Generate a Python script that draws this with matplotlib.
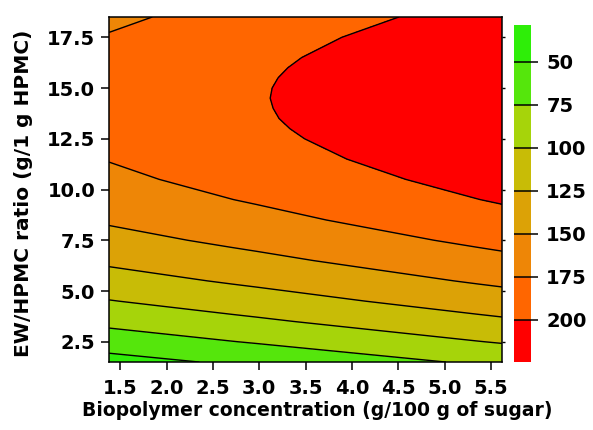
import numpy as np
import matplotlib
matplotlib.use('Agg')
import matplotlib.pyplot as plt
from matplotlib.colors import ListedColormap, BoundaryNorm

plt.rcParams['font.family'] = 'DejaVu Sans'
plt.rcParams['font.weight'] = 'bold'

# biopolymer concentration (g/100 g of sugar)
conc = [1.38, 1.645, 1.91, 2.175, 2.44, 2.705, 2.97, 3.235, 3.50,
        3.765, 4.03, 4.295, 4.56, 4.825, 5.09, 5.355, 5.62]
# EW/HPMC ratio (g/1 g HPMC)
ratio = [1.5, 2.5, 3.5, 4.5, 5.5, 6.5, 7.5, 8.5, 9.5, 10.5, 11.5, 12.5,
         13.0, 13.5, 14.0, 14.5, 15.0, 15.5, 16.0, 16.5, 17.5, 18.5]
# response, one row per ratio value
resp = [
    [40.8, 43.3, 45.8, 48.3, 50.8, 53.3, 55.7, 58.2, 60.7, 63.2, 65.7, 68.2, 70.7, 73.2, 75.7, 78.2, 80.6],
    [61.9, 64.4, 66.9, 69.4, 71.9, 74.4, 76.8, 79.3, 81.8, 84.3, 86.8, 89.3, 91.8, 94.3, 96.8, 99.3, 101.7],
    [81.3, 83.8, 86.3, 88.8, 91.3, 93.8, 96.2, 98.7, 101.2, 103.7, 106.2, 108.7, 111.2, 113.7, 116.2, 118.7, 121.1],
    [99.0, 101.5, 104.0, 106.5, 109.0, 111.5, 113.9, 116.4, 118.9, 121.4, 123.9, 126.4, 128.9, 131.4, 133.9, 136.4, 138.8],
    [115.0, 117.5, 120.0, 122.5, 125.0, 127.5, 129.9, 132.4, 134.9, 137.4, 139.9, 142.4, 144.9, 147.4, 149.9, 152.4, 154.8],
    [129.3, 131.8, 134.3, 136.8, 139.3, 141.8, 144.2, 146.7, 149.2, 151.7, 154.2, 156.7, 159.2, 161.7, 164.2, 166.7, 169.1],
    [142.0, 144.5, 147.0, 149.5, 152.0, 154.5, 156.9, 159.4, 161.9, 164.4, 166.9, 169.4, 171.9, 174.4, 176.9, 179.4, 181.8],
    [153.0, 155.5, 158.0, 160.5, 163.0, 165.5, 167.9, 170.4, 172.9, 175.4, 177.9, 180.4, 182.9, 185.4, 187.9, 190.4, 192.8],
    [162.3, 164.8, 167.3, 169.8, 172.3, 174.8, 177.2, 179.7, 182.2, 184.7, 187.2, 189.7, 192.2, 194.7, 197.2, 199.7, 202.1],
    [169.9, 172.4, 174.9, 177.4, 179.9, 182.4, 184.8, 187.3, 189.8, 192.3, 194.8, 197.3, 199.8, 202.3, 204.8, 207.3, 209.7],
    [175.9, 178.4, 180.9, 183.4, 185.9, 188.4, 190.8, 193.3, 195.8, 198.3, 200.8, 203.3, 205.8, 208.3, 210.8, 213.3, 215.7],
    [180.2, 182.7, 185.2, 187.7, 190.2, 192.7, 195.1, 197.6, 200.1, 202.6, 205.1, 207.6, 210.1, 212.6, 215.1, 217.6, 220.0],
    [181.7, 184.2, 186.7, 189.2, 191.7, 194.2, 196.6, 199.1, 201.6, 204.1, 206.6, 209.1, 211.6, 214.1, 216.6, 219.1, 221.5],
    [182.8, 185.3, 187.8, 190.3, 192.8, 195.3, 197.7, 200.2, 202.7, 205.2, 207.7, 210.2, 212.7, 215.2, 217.7, 220.2, 222.6],
    [183.4, 185.9, 188.4, 190.9, 193.4, 195.9, 198.3, 200.8, 203.3, 205.8, 208.3, 210.8, 213.3, 215.8, 218.3, 220.8, 223.2],
    [183.7, 186.2, 188.7, 191.2, 193.7, 196.2, 198.6, 201.1, 203.6, 206.1, 208.6, 211.1, 213.6, 216.1, 218.6, 221.1, 223.5],
    [183.5, 186.0, 188.5, 191.0, 193.5, 196.0, 198.4, 200.9, 203.4, 205.9, 208.4, 210.9, 213.4, 215.9, 218.4, 220.9, 223.3],
    [182.9, 185.4, 187.9, 190.4, 192.9, 195.4, 197.8, 200.3, 202.8, 205.3, 207.8, 210.3, 212.8, 215.3, 217.8, 220.3, 222.7],
    [181.9, 184.4, 186.9, 189.4, 191.9, 194.4, 196.8, 199.3, 201.8, 204.3, 206.8, 209.3, 211.8, 214.3, 216.8, 219.3, 221.7],
    [180.5, 183.0, 185.5, 188.0, 190.5, 193.0, 195.4, 197.9, 200.4, 202.9, 205.4, 207.9, 210.4, 212.9, 215.4, 217.9, 220.3],
    [176.4, 178.9, 181.4, 183.9, 186.4, 188.9, 191.3, 193.8, 196.3, 198.8, 201.3, 203.8, 206.3, 208.8, 211.3, 213.8, 216.2],
    [170.6, 173.1, 175.6, 178.1, 180.6, 183.1, 185.5, 188.0, 190.5, 193.0, 195.5, 198.0, 200.5, 203.0, 205.5, 208.0, 210.4],
]
lines = [50, 75, 100, 125, 150, 175, 200]
band_colors = ['#2EEE08', '#55E60C', '#A6D40A', '#C8BC06', '#DCA206',
               '#EE8606', '#FF6600', '#FF0000']
x_ticks = [1.5, 2.0, 2.5, 3.0, 3.5, 4.0, 4.5, 5.0, 5.5]
y_ticks = [2.5, 5.0, 7.5, 10.0, 12.5, 15.0, 17.5]

Z = np.array(resp)
levels = [Z.min()] + lines + [Z.max()]
cmap = ListedColormap(band_colors)
norm = BoundaryNorm(levels, cmap.N)

fig = plt.figure(figsize=(5.93, 4.30), dpi=100)
ax = fig.add_axes([0.184, 0.158, 0.6625, 0.8025])
cax = fig.add_axes([0.8668, 0.158, 0.0287, 0.785])

cf = ax.contourf(conc, ratio, Z, levels=levels, cmap=cmap, norm=norm)
ax.contour(conc, ratio, Z, levels=lines, colors='black', linewidths=1.0)

ax.set_xlim(conc[0], conc[-1])
ax.set_ylim(1.5, 18.5)
ax.set_xticks(x_ticks)
ax.set_xticklabels([f'{v:.1f}' for v in x_ticks])
ax.set_yticks(y_ticks)
ax.set_yticklabels([f'{v:.1f}' for v in y_ticks])
ax.tick_params(axis='both', direction='out', length=6, width=1.1, labelsize=14)
ax.tick_params(axis='x', pad=6)
ax.tick_params(axis='y', pad=4)
for sp in ax.spines.values():
    sp.set_linewidth(1.1)
sec = ax.secondary_yaxis('right')
sec.set_yticks(y_ticks)
sec.tick_params(length=2, width=1, labelright=False)
sec.spines['right'].set_visible(False)

ax.set_xlabel('Biopolymer concentration (g/100 g of sugar)', fontsize=13.5, fontweight='bold')
ax.set_ylabel('EW/HPMC ratio (g/1 g HPMC)', fontsize=14.5, fontweight='bold')
ax.xaxis.set_label_coords(0.529, -0.112)
ax.yaxis.set_label_coords(-0.195, 0.49)

cb = fig.colorbar(cf, cax=cax, ticks=lines)
cb.outline.set_visible(False)
cax.set_ylim(223, 42)
for v in lines:
    cax.axhline(v, color='black', lw=1.1)
cax.tick_params(direction='out', length=5, width=1.1, labelsize=14, pad=6)

plt.savefig('out.png', dpi=100)
